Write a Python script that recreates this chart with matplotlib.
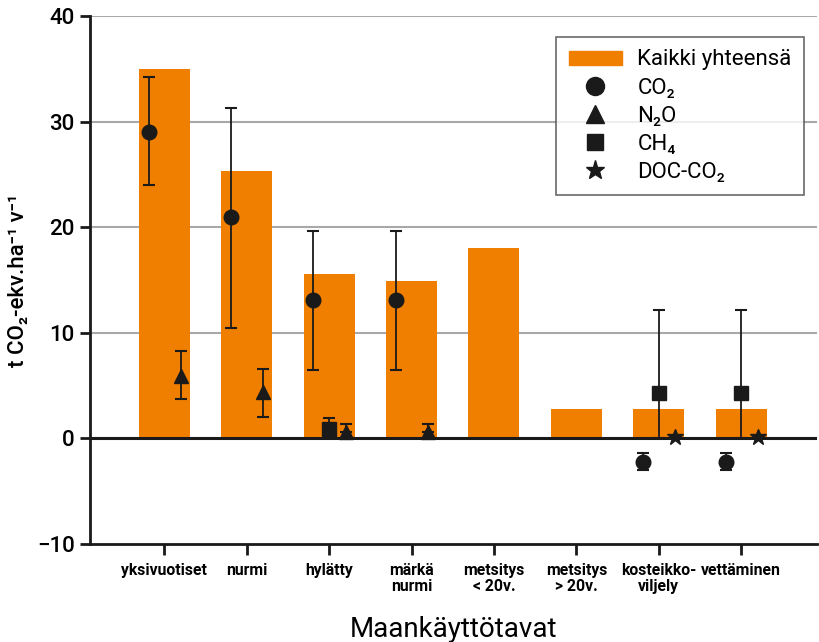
import matplotlib
matplotlib.use("Agg")
import matplotlib.pyplot as plt
import numpy as np
from matplotlib.lines import Line2D
from matplotlib.patches import Patch

plt.rcParams['font.family'] = ['Roboto', 'DejaVu Sans']

categories = ["yksivuotiset", "nurmi", "hylätty", "märkä\nnurmi", "metsitys\n< 20v.",
              "metsitys\n> 20v.", "kosteikko-\nviljely", "vettäminen"]
total = [35.0, 25.3, 15.6, 14.9, 18.0, 2.8, 2.8, 2.8]

# CO2: index, value, lower err, upper err
co2_idx = [0, 1, 2, 3, 6, 7]
co2_val = [29.0, 21.0, 13.1, 13.1, -2.2, -2.2]
co2_lo = [24.0, 10.5, 6.5, 6.5, -3.0, -3.0]
co2_hi = [34.2, 31.3, 19.6, 19.6, -1.4, -1.4]

n2o_idx = [0, 1, 2, 3]
n2o_val = [5.9, 4.4, 0.6, 0.6]
n2o_lo = [3.7, 2.0, 0.6, 0.6]
n2o_hi = [8.3, 6.6, 1.35, 1.35]

ch4_idx = [2, 6, 7]
ch4_val = [0.9, 4.3, 4.3]
ch4_lo = [0.9, 0.0, 0.0]
ch4_hi = [1.9, 12.2, 12.2]

doc_idx = [6, 7]
doc_val = [0.15, 0.15]

orange = "#F07F00"
dark = "#1a1a1a"

fig = plt.figure(figsize=(8.19, 6.42), dpi=100)
ax = fig.add_axes([0.110, 0.1526, 0.8876, 0.8224])

x = np.arange(len(categories))
ax.bar(x, total, width=0.62, color=orange, zorder=2)

for yv in [10, 20, 30, 40]:
    ax.axhline(yv, color="#a8a8a8", lw=1.5, zorder=1)
ax.axhline(0, color=dark, lw=2.2, zorder=3)

def eb(idx, val, lo, hi, off, marker, ms):
    xs = np.array(idx) + off
    v = np.array(val)
    yerr = [v - np.array(lo), np.array(hi) - v]
    ax.errorbar(xs, v, yerr=yerr, fmt=marker, color=dark, ms=ms, ecolor=dark,
                elinewidth=1.3, capsize=4, capthick=1.5, zorder=4)

eb(co2_idx, co2_val, co2_lo, co2_hi, -0.19, 'o', 10.5)
eb(n2o_idx, n2o_val, n2o_lo, n2o_hi, 0.2, '^', 10.5)
eb(ch4_idx, ch4_val, ch4_lo, ch4_hi, 0.0, 's', 10)
ax.plot(np.array(doc_idx) + 0.2, doc_val, '*', color=dark, ms=12, zorder=4, ls='none')

ax.set_xlim(-0.9, 7.92)
ax.set_ylim(-10, 40)
ax.set_yticks([-10, 0, 10, 20, 30, 40])
ax.set_xticks(x)
ax.set_xticklabels(categories, fontsize=11.3, fontweight='bold', linespacing=1.05)
ax.tick_params(axis='y', labelsize=16, width=2, length=7, color=dark, pad=4)
ax.tick_params(axis='x', width=2, length=8, color=dark, pad=6)
for lab in ax.get_yticklabels():
    lab.set_fontweight('medium')

for s in ['top', 'right']:
    ax.spines[s].set_visible(False)
ax.spines['left'].set_linewidth(2)
ax.spines['bottom'].set_linewidth(2)
ax.spines['left'].set_color(dark)
ax.spines['bottom'].set_color(dark)

ax.set_ylabel("t CO₂-ekv.ha⁻¹ v⁻¹", fontsize=16, fontweight='medium', labelpad=6)
ax.set_xlabel("Maankäyttötavat", fontsize=20, labelpad=16)

handles = [Patch(color=orange, label="Kaikki yhteensä"),
           Line2D([], [], marker='o', ls='none', color=dark, ms=13, label="CO₂"),
           Line2D([], [], marker='^', ls='none', color=dark, ms=13, label="N₂O"),
           Line2D([], [], marker='s', ls='none', color=dark, ms=12, label="CH₄"),
           Line2D([], [], marker='*', ls='none', color=dark, ms=14, label="DOC-CO₂")]
leg = ax.legend(handles=handles, loc='upper right', bbox_to_anchor=(0.982, 0.960),
                borderaxespad=0.0,
                fontsize=16, frameon=True, fancybox=False, edgecolor='#444444',
                handlelength=2.4, handleheight=0.6, handletextpad=0.7,
                labelspacing=0.32, borderpad=0.55)
leg.get_frame().set_linewidth(1.2)
leg.set_zorder(5)

fig.savefig("out.png", dpi=100)
